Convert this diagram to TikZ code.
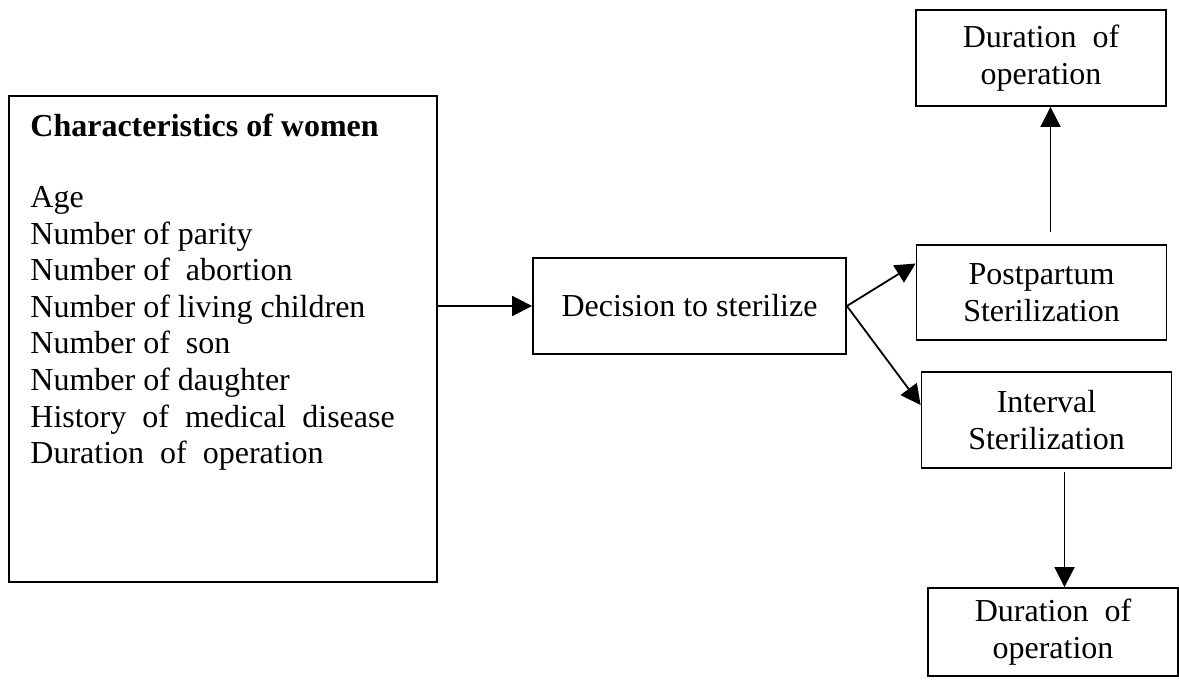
\documentclass[tikz,border=0pt]{standalone}
\usepackage{fontspec}
\setmainfont{Liberation Serif}
\usetikzlibrary{arrows.meta}
\tikzset{
  flownode/.style={
    rectangle, draw=black, line width=0.9pt,
    align=center, inner sep=0pt,
    font=\fontsize{16}{18.3}\selectfont
  },
  sidenode/.style={flownode, minimum width=125pt, minimum height=48pt},
  listtext/.style={
    align=left, anchor=north west, inner sep=0pt,
    font=\fontsize{16}{18.3}\selectfont
  },
  flowarrow/.style={-{Triangle[length=10pt,width=10pt]}, line width=0.9pt, color=black},
}

\begin{document}
\begin{tikzpicture}[x=0.5pt, y=-0.5pt]
  \useasboundingbox (0,0) rectangle (1179,680);

  \node[flownode, minimum width=214pt, minimum height=243pt] (women) at (223,339) {};
  \node[listtext] (traits) at (30,114) {\textbf{Characteristics of women}\\[17pt]
    Age\\ Number of parity\\ Number of\ \ abortion\\ Number of living children\\
    Number of\ \ son\\ Number of daughter\\ History\ \ of\ \ medical\ \ disease\\
    Duration\ \ of\ \ operation};
  \node[flownode, minimum width=156.5pt, minimum height=48pt] (decision) at (689.5,306) {Decision to sterilize};
  \node[sidenode, minimum height=47.5pt] (postpartum) at (1041.5,292.5) {Postpartum\\ Sterilization};
  \node[sidenode] (interval) at (1046.5,420) {Interval\\ Sterilization};
  \node[sidenode] (topdur) at (1041,58) {Duration\ \ of\\ operation};
  \node[sidenode, minimum height=44pt] (botdur) at (1053,632) {Duration\ \ of\\ operation};

  \draw[flowarrow] (women.east |- decision) -- (decision.west);
  \draw[flowarrow] (decision.east) -- ([yshift=14.5pt]postpartum.west);
  \draw[flowarrow] (decision.east) -- ([yshift=7.5pt]interval.west);
  \draw[flowarrow] ([xshift=4.5pt,yshift=6pt]postpartum.north) -- ([xshift=4.5pt]postpartum.north |- topdur.south);
  \draw[flowarrow] ([xshift=9pt,yshift=-1.5pt]interval.south) -- ([xshift=9pt]interval.south |- botdur.north);
\end{tikzpicture}
\end{document}
